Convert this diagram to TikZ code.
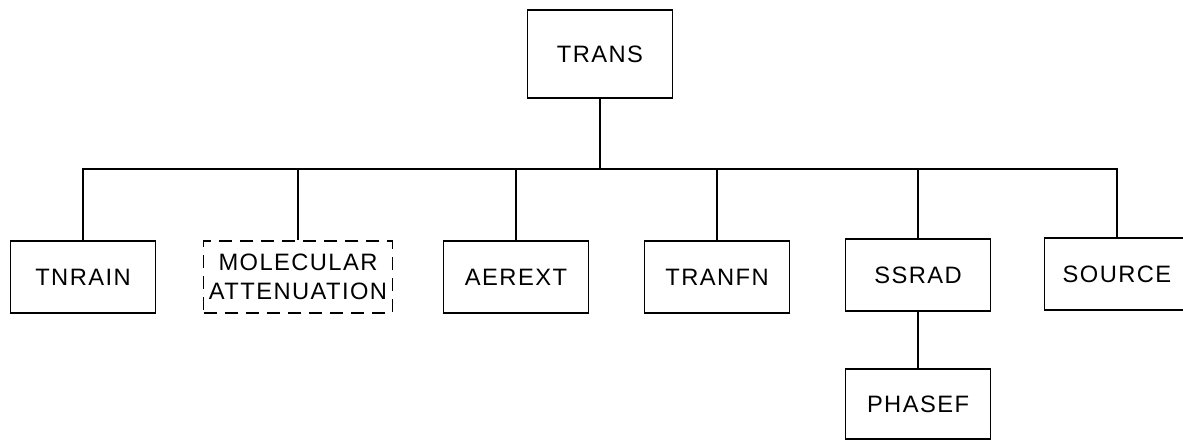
\documentclass[tikz,border=0pt]{standalone}
\usepackage{fontspec}
\setmainfont{Liberation Sans}
\newfontfamily\boxfont[LetterSpace=6]{Liberation Sans}
\begin{document}
\begin{tikzpicture}[x=0.02cm,y=-0.02cm,
  modbox/.style={draw,line width=1pt,minimum width=2.9cm,minimum height=1.44cm,
    align=center,inner sep=0pt,font=\boxfont\fontsize{13.5}{16.5}\selectfont},
  extbox/.style={modbox,dash pattern=on 7.5pt off 4.5pt},
  link/.style={line width=0.7pt}]
\useasboundingbox (0,0) rectangle (1183,440);

\node[modbox,minimum height=1.76cm] (trans) at (600,54) {TRANS};
\coordinate (bus) at (600,169);

\node[modbox] (tnrain) at (83,277) {TNRAIN};
\node[extbox,minimum width=3.78cm] (molec) at (298,277) {MOLECULAR\\ATTENUATION};
\node[modbox] (aerext) at (516,277) {AEREXT};
\node[modbox] (tranfn) at (717,277) {TRANFN};
\node[modbox] (ssrad) at (918,275) {SSRAD};
\node[modbox] (source) at (1117,274) {SOURCE};
\node[modbox,minimum height=1.4cm] (phasef) at (918,404) {PHASEF};

\draw[link] (trans.south) -- (bus);
\foreach \child in {tnrain,molec,aerext,tranfn,ssrad,source}
  \draw[link] (bus) -| (\child.north);
\draw[link] (ssrad.south) -- (phasef.north);
\end{tikzpicture}
\end{document}
